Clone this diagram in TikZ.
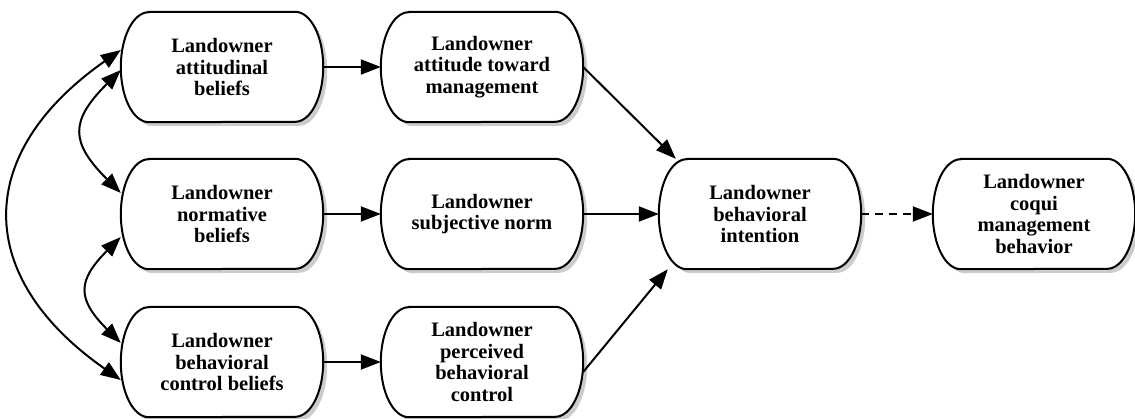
\documentclass[tikz,border=0pt]{standalone}
\usepackage{fontspec}
\setmainfont{Liberation Serif}
\usetikzlibrary{arrows.meta,shadows,backgrounds}
\tikzset{
  box/.style={minimum width=202pt, minimum height=110pt, inner sep=0pt, align=center,
    font=\bfseries\fontsize{20.5}{21.5}\selectfont},
  outline/.style={draw, line width=2pt, fill=white,
    drop shadow={shadow xshift=4pt, shadow yshift=-4pt, opacity=0.4}},
  arr/.style={line width=2pt, -{Triangle[length=20pt,width=15pt]}},
  twoway/.style={line width=2pt, {Triangle[length=20pt,width=15pt]}-{Triangle[length=20pt,width=15pt]}},
}
\begin{document}
\begin{tikzpicture}[x=1pt,y=1pt]
\useasboundingbox (0,-419) rectangle (1135,0);
% beliefs
\node [box] (ab) at (222,-67) {Landowner\\attitudinal\\beliefs};
\node [box] (nb) at (222,-214) {Landowner\\normative\\beliefs};
\node [box] (cb) at (222,-362) {Landowner\\behavioral\\control beliefs};
% attitude, norm, control
\node [box] (att) at (482,-67) {Landowner\\attitude toward\\management};
\node [box] (sn) at (482,-214) {Landowner\\subjective norm};
\node [box] (pbc) at (482,-362) {Landowner\\perceived\\behavioral\\control};
% intention and behavior
\node [box] (bi) at (760,-214) {Landowner\\behavioral\\intention};
\node [box] (beh) at (1034,-214) {Landowner\\coqui\\management\\behavior};
\begin{scope}[on background layer]
\foreach \n in {ab,nb,cb,att,sn,pbc,bi,beh}
  \draw [outline] ([xshift=28pt]\n.north west) -- ([xshift=-28pt]\n.north east)
    arc [start angle=90,end angle=-90,x radius=28pt,y radius=55pt]
    -- ([xshift=28pt]\n.south west)
    arc [start angle=270,end angle=90,x radius=28pt,y radius=55pt] -- cycle;
\end{scope}
\draw [arr] (ab) -- (att);
\draw [arr] (nb) -- (sn);
\draw [arr] (cb) -- (pbc);
\draw [arr] (att.east) -- ([xshift=17pt]bi.north west);
\draw [arr] (sn) -- (bi);
\draw [arr] ([yshift=-10pt]pbc.east) -- ([xshift=9pt]bi.south west);
\draw [arr,dash pattern=on 8pt off 6pt] (bi) -- (beh);
% correlations
\draw [twoway] ([yshift=-3pt]ab.west) to[out=225,in=135,looseness=1.5] ([yshift=21pt]nb.west);
\draw [twoway] ([yshift=-23pt]nb.west) to[out=225,in=135,looseness=1.5] ([yshift=19pt]cb.west);
\draw [twoway] ([yshift=17pt]ab.west) to[out=215,in=145,looseness=1.4] ([yshift=-18pt]cb.west);
\end{tikzpicture}
\end{document}
